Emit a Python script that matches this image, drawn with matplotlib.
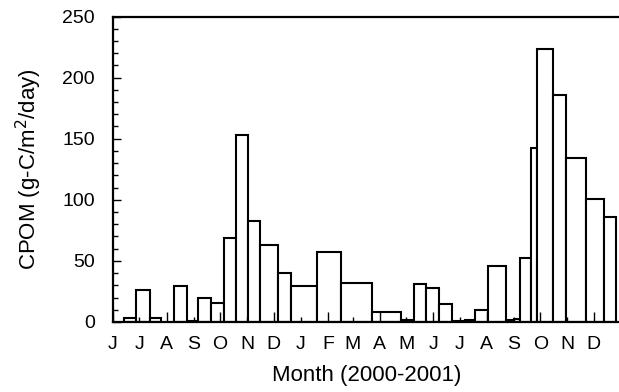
import numpy as np
import pandas as pd
import matplotlib
matplotlib.use('Agg')
import matplotlib.pyplot as plt
import matplotlib.dates as mdates
from matplotlib.ticker import MultipleLocator

# collection periods (start, end) and CPOM flux
starts = ['2000-06-14', '2000-06-27', '2000-07-13',
          '2000-08-09', '2000-08-24', '2000-09-06', '2000-09-21', '2000-10-05',
          '2000-10-19', '2000-11-02', '2000-11-16', '2000-12-06', '2000-12-21',
          '2001-01-19', '2001-02-16', '2001-03-23', '2001-04-25', '2001-05-10',
          '2001-05-24', '2001-06-08', '2001-06-22', '2001-07-07', '2001-07-19',
          '2001-08-02', '2001-08-23', '2001-09-01', '2001-09-08', '2001-09-20',
          '2001-09-27', '2001-10-15', '2001-10-30', '2001-11-22', '2001-12-13']
ends = ['2000-06-27', '2000-07-13', '2000-07-26',
        '2000-08-24', '2000-09-06', '2000-09-21', '2000-10-05', '2000-10-19',
        '2000-11-02', '2000-11-16', '2000-12-06', '2000-12-21', '2001-01-19',
        '2001-02-16', '2001-03-23', '2001-04-25', '2001-05-10', '2001-05-24',
        '2001-06-08', '2001-06-22', '2001-07-07', '2001-07-19', '2001-08-02',
        '2001-08-23', '2001-09-01', '2001-09-08', '2001-09-20', '2001-09-27',
        '2001-10-15', '2001-10-30', '2001-11-22', '2001-12-13', '2001-12-26']
cpom = [3.5, 26, 3,
        29.7, 1, 20, 15.3, 68.6, 152.8, 82.3, 63.2, 40, 29.7,
        57.4, 32, 8.5, 1.3, 30.8, 28, 15, 0.5, 2, 9.8,
        46, 1.5, 2.5, 52.7, 142.7, 223, 186, 134, 100.8, 85.8]
month_letters = ['J', 'J', 'A', 'S', 'O', 'N', 'D', 'J', 'F', 'M',
                 'A', 'M', 'J', 'J', 'A', 'S', 'O', 'N', 'D']

plt.rcParams['font.family'] = ['Liberation Sans', 'DejaVu Sans']

x0 = mdates.date2num(pd.to_datetime(starts))
x1 = mdates.date2num(pd.to_datetime(ends))

fig = plt.figure(figsize=(6.19, 3.92), dpi=100)
ax = fig.add_axes([113/619, 70/392, 508/619, 305.5/392])
ax.bar(x0, np.array(cpom), width=x1 - x0, align='edge',
       facecolor='white', edgecolor='black', linewidth=1.5)

xmin = mdates.date2num(pd.Timestamp('2000-06-01'))
xmax = mdates.date2num(pd.Timestamp('2002-01-01'))
ax.set_xlim(xmin, xmax)
ax.set_ylim(0, 250)

months = mdates.date2num(pd.date_range('2000-06-01', '2001-12-01', freq='MS'))
ax.set_xticks(months[::2], labels=month_letters[::2])
ax.set_xticks(months[1::2], labels=month_letters[1::2], minor=True)
ax.yaxis.set_major_locator(MultipleLocator(50))
ax.yaxis.set_minor_locator(MultipleLocator(10))

ax.tick_params(axis='x', which='both', direction='in', top=False, labelsize=14, pad=10)
ax.tick_params(axis='x', which='major', length=7, width=1)
ax.tick_params(axis='x', which='minor', length=3.5, width=1)
ax.tick_params(axis='y', which='both', direction='in', right=False, labelsize=14, pad=13)
ax.tick_params(axis='y', which='major', length=6, width=1)
ax.tick_params(axis='y', which='minor', length=3.5, width=1)

for s in ax.spines.values():
    s.set_linewidth(1.6)

ax.set_xlabel('Month (2000-2001)', fontsize=16, labelpad=9)
ax.set_ylabel('CPOM (g-C/m$^2$/day)', fontsize=16, labelpad=13)

fig.savefig('out.png', dpi=100)
